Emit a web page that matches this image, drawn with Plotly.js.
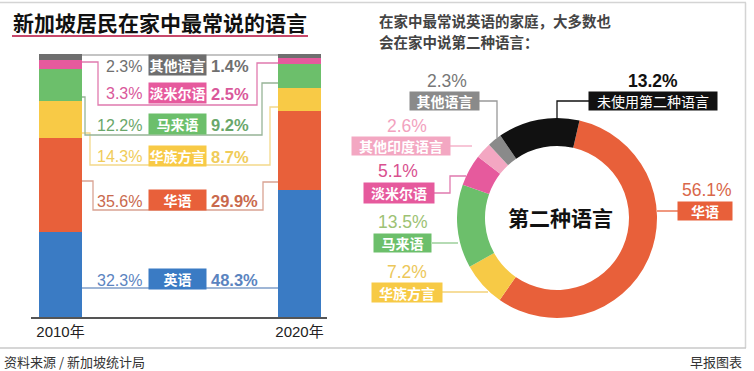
<!DOCTYPE html>
<html><head><meta charset="utf-8">
<script src="https://cdn.plot.ly/plotly-3.0.1.min.js"></script>
<style>html,body{margin:0;padding:0;background:#fff;}#chart{width:754px;height:371px;}</style>
</head><body><div id="chart"></div>
<script>
// ---------- data ----------
const years = ['2010年', '2020年'];
const languages = ['英语', '华语', '华族方言', '马来语', '淡米尔语', '其他语言'];
const share2010 = [32.3, 35.6, 14.3, 12.2, 3.3, 2.3];
const share2020 = [48.3, 29.9, 8.7, 9.2, 2.5, 1.4];

const secondLangLabels = ['华语', '华族方言', '马来语', '淡米尔语', '其他印度语言', '其他语言', '未使用第二种语言'];
const secondLangValues = [56.1, 7.2, 13.5, 5.1, 2.6, 2.3, 13.2];

// ---------- styles ----------
const W = 754, H = 371;
const PX = x => x / W;
const PY = y => 1 - y / H;
const CJK = 'Noto Sans CJK SC, sans-serif';
const NUM = 'Liberation Sans, Noto Sans CJK SC, sans-serif';

const barColor = {'英语':'#3a7bc4','华语':'#e8603a','华族方言':'#f8ca46','马来语':'#6cbf6b','淡米尔语':'#e65a9d','其他语言':'#6e6e6e'};
const valColor = {'英语':'#5b84bf','华语':'#c9694d','华族方言':'#f0cc5a','马来语':'#6aa76a','淡米尔语':'#d9589a','其他语言':'#707070'};
const lineColor = {'英语':'#7f9ec8','华语':'#d9a393','华族方言':'#f3d98a','马来语':'#97b497','淡米尔语':'#e07aae','其他语言':'#b0b0b0'};
// row layout (pixel) for the left-hand comparison labels
const rowY = {'其他语言':65,'淡米尔语':93,'马来语':124,'华族方言':156,'华语':200,'英语':279};
const rowPath = {
  '其他语言': [[82,55],[278,55]],
  '淡米尔语': [[82,62],[98,62],[98,105],[257,105],[257,63],[278,63]],
  '马来语':   [[82,97],[85,97],[85,135],[262,135],[262,83],[278,83]],
  '华族方言': [[82,133],[90,133],[90,165],[270,165],[270,107],[278,107]],
  '华语':     [[82,181],[93,181],[93,210],[263,210],[263,182],[278,182]],
  '英语':     [[82,288],[278,288]]
};

const donutColor = {'华语':'#e8603a','华族方言':'#f7ca46','马来语':'#6cbf6b','淡米尔语':'#e65a9d','其他印度语言':'#f3a7c2','其他语言':'#8a8a8a','未使用第二种语言':'#111111'};
const donutPctColor = {'华语':'#d9674a','华族方言':'#ecc75a','马来语':'#9dc274','淡米尔语':'#d9508f','其他印度语言':'#f2a2be','其他语言':'#777777','未使用第二种语言':'#111111'};
const donutLineColor = {'华语':'#e8603a','华族方言':'#f3d27a','马来语':'#8dc88c','淡米尔语':'#e07aae','其他印度语言':'#f3a7c2','其他语言':'#999999','未使用第二种语言':'#111111'};
const donutLab = {
  '其他语言':        {pct:[447,81],  box:[444,101], w:69,  h:18, path:[[478,101],[497,101],[497,138]]},
  '未使用第二种语言': {pct:[653,81],  box:[653,101], w:128, h:18, path:[[589,101],[557,101],[557,118]]},
  '其他印度语言':    {pct:[407,126], box:[401,146], w:98,  h:18, path:[[450,146],[472,146]]},
  '淡米尔语':        {pct:[398,171], box:[399,193], w:70,  h:20, path:[[434,193],[450,193],[450,176],[466,176]]},
  '马来语':          {pct:[403,222], box:[403,243], w:57,  h:18, path:[[432,243],[458,243]]},
  '华族方言':        {pct:[407,272], box:[407,292], w:70,  h:19, path:[[442,292],[488,292]]},
  '华语':            {pct:[707,190], box:[705,211], w:54,  h:18, path:[[678,211],[657,211]]}
};

function pathStr(pts){ return pts.map((p,i)=>(i?'L':'M')+PX(p[0])+','+PY(p[1])).join(' '); }

// ---------- traces ----------
const traces = languages.map((lang, i) => ({
  type: 'bar', x: years, y: [share2010[i], share2020[i]], name: lang,
  marker: {color: barColor[lang], line: {width: 0}}, width: 0.18,
  hoverinfo: 'skip', showlegend: false, xaxis: 'x', yaxis: 'y'
}));
traces.push({
  type: 'pie', labels: secondLangLabels, values: secondLangValues,
  marker: {colors: secondLangLabels.map(l => donutColor[l]), line: {width: 0}},
  hole: 0.72, sort: false, direction: 'clockwise', rotation: 13,
  textinfo: 'none', hoverinfo: 'skip', showlegend: false,
  domain: {x: [PX(457), PX(657)], y: [PY(318), PY(118)]}
});

// ---------- shapes & annotations ----------
const shapes = [];
const ann = [];
// panel frame
shapes.push({type:'line', xref:'paper', yref:'paper', x0:0, x1:PX(746), y0:PY(2.5), y1:PY(2.5), line:{color:'#d4d4d4', width:1.5}});
shapes.push({type:'line', xref:'paper', yref:'paper', x0:PX(745.5), x1:PX(745.5), y0:PY(2.5), y1:PY(348), line:{color:'#d4d4d4', width:1.5}});
shapes.push({type:'line', xref:'paper', yref:'paper', x0:0, x1:PX(746), y0:PY(348), y1:PY(348), line:{color:'#c8c8c8', width:1.5}});
// title underline
shapes.push({type:'line', xref:'paper', yref:'paper', x0:PX(12), x1:PX(308), y0:PY(36), y1:PY(36), line:{color:'#c7486b', width:2}});

ann.push({xref:'paper', yref:'paper', x:PX(11), y:PY(22), xanchor:'left', yanchor:'middle', showarrow:false,
  text:'<b>新加坡居民在家中最常说的语言</b>', font:{family:CJK, size:21, color:'#111'}});
ann.push({xref:'paper', yref:'paper', x:PX(377), y:PY(21), xanchor:'left', yanchor:'middle', showarrow:false,
  text:'<b>在家中最常说英语的家庭，大多数也</b>', font:{family:CJK, size:14.5, color:'#444'}});
ann.push({xref:'paper', yref:'paper', x:PX(377), y:PY(41), xanchor:'left', yanchor:'middle', showarrow:false,
  text:'<b>会在家中说第二种语言：</b>', font:{family:CJK, size:14.5, color:'#444'}});
ann.push({xref:'paper', yref:'paper', x:PX(2), y:PY(361), xanchor:'left', yanchor:'middle', showarrow:false,
  text:'资料来源 / 新加坡统计局', font:{family:CJK, size:13, color:'#333'}});
ann.push({xref:'paper', yref:'paper', x:PX(744), y:PY(361), xanchor:'right', yanchor:'middle', showarrow:false,
  text:'早报图表', font:{family:CJK, size:13, color:'#333'}});

// left comparison rows
languages.forEach((lang, i) => {
  shapes.push({type:'path', xref:'paper', yref:'paper', path: pathStr(rowPath[lang]), line:{color:lineColor[lang], width:1.3}, layer:'below'});
  const yc = rowY[lang];
  ann.push({xref:'paper', yref:'paper', x:PX(177), y:PY(yc), xanchor:'center', yanchor:'middle', showarrow:false,
    text:'<b>'+lang+'</b>', width:57, height:20, bgcolor:barColor[lang], borderpad:0,
    font:{family:CJK, size:14, color:'#fff'}});
  ann.push({xref:'paper', yref:'paper', x:PX(144), y:PY(yc+1), xanchor:'right', yanchor:'middle', showarrow:false,
    text: share2010[i].toFixed(1)+'%', font:{family:NUM, size:16, color:valColor[lang]}});
  ann.push({xref:'paper', yref:'paper', x:PX(209), y:PY(yc+1), xanchor:'left', yanchor:'middle', showarrow:false,
    text: '<b>'+share2020[i].toFixed(1)+'%</b>', font:{family:NUM, size:16.5, color:valColor[lang]}});
});

// donut labels
secondLangLabels.forEach((lab, i) => {
  const d = donutLab[lab];
  shapes.push({type:'path', xref:'paper', yref:'paper', path: pathStr(d.path), line:{color:donutLineColor[lab], width:1.3}});
  const bold = lab === '未使用第二种语言';
  ann.push({xref:'paper', yref:'paper', x:PX(d.pct[0]), y:PY(d.pct[1]), xanchor:'center', yanchor:'middle', showarrow:false,
    text: (bold?'<b>':'')+secondLangValues[i].toFixed(1)+'%'+(bold?'</b>':''), font:{family:NUM, size:17.5, color:donutPctColor[lab]}});
  ann.push({xref:'paper', yref:'paper', x:PX(d.box[0]), y:PY(d.box[1]), xanchor:'center', yanchor:'middle', showarrow:false,
    text: bold ? lab : '<b>'+lab+'</b>', width:d.w, height:d.h, bgcolor:donutColor[lab], borderpad:0,
    font:{family:CJK, size:14, color:'#fff'}});
});
ann.push({xref:'paper', yref:'paper', x:PX(560), y:PY(217), xanchor:'center', yanchor:'middle', showarrow:false,
  text:'<b>第二种语言</b>', font:{family:CJK, size:21, color:'#111'}});

const layout = {
  width: W, height: H, margin: {l:0, r:0, t:0, b:0},
  paper_bgcolor: '#fff', plot_bgcolor: 'rgba(0,0,0,0)',
  barmode: 'stack', bargap: 0,
  xaxis: {domain:[PX(31), PX(327)], type:'category', range:[-29.5/239, 266.5/239],
    showline:true, linecolor:'#555', linewidth:2, ticks:'', showgrid:false, zeroline:false,
    tickfont:{family:NUM, size:15, color:'#222'}, fixedrange:true},
  yaxis: {domain:[PY(317), PY(54)], range:[0,100], visible:false, fixedrange:true},
  shapes: shapes, annotations: ann, showlegend: false
};

Plotly.newPlot('chart', traces, layout, {displayModeBar:false, staticPlot:true});
</script>
</body></html>
